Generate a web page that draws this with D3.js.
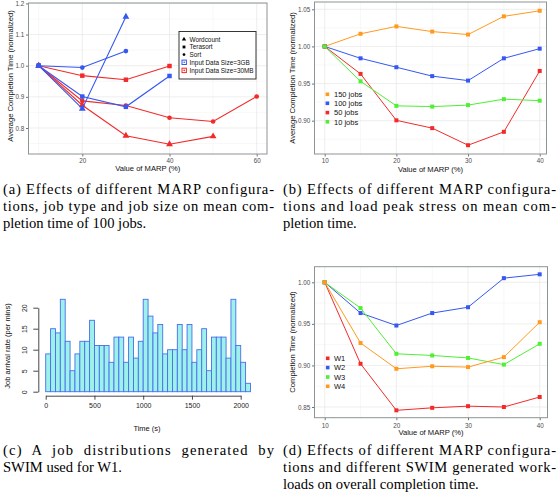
<!DOCTYPE html>
<html><head><meta charset="utf-8">
<script src="https://cdn.jsdelivr.net/npm/d3@7"></script>
<style>body{margin:0;background:#fff} svg{display:block}</style>
</head><body><svg id="c" width="560" height="502"></svg>
<script>
// ---------- DATA ----------
// (a)
const marpA = [10, 20, 30, 40, 50, 60];
const wordcount3GB = [1.0, 0.862, 1.157];
const terasort3GB = [1.0, 0.901, 0.868, 0.967];
const sort3GB = [1.0, 0.994, 1.047];
const wordcount30MB = [1.0, 0.873, 0.775, 0.748, 0.773];
const terasort30MB = [1.0, 0.968, 0.955, 0.999];
const sort30MB = [1.0, 0.887, 0.872, 0.833, 0.821, 0.901];
const legendA = ["Wordcount", "Terasort", "Sort", "Input Data Size=3GB", "Input Data Size=30MB"];
// (b)
const marpB = [10, 15, 20, 25, 30, 35, 40];
const jobs150 = [1.0, 1.017, 1.027, 1.020, 1.016, 1.0405, 1.048];
const jobs100 = [1.0, 0.984, 0.972, 0.960, 0.954, 0.984, 0.997];
const jobs50 = [1.0, 0.963, 0.9005, 0.890, 0.867, 0.885, 0.967];
const jobs10 = [1.0, 0.953, 0.920, 0.919, 0.921, 0.929, 0.927];
const legendB = ["150 jobs", "100 jobs", "50 jobs", "10 jobs"];
// (c)
const arrivals = [9,15,14,22,12,5,9,12,12,17,11,11,11,7,13,13,7,13,8,12,22,18,14,16,9,10,10,16,10,16,7,10,15,5,13,13,13,8,22,11,7,2];
const binWidth = 50;
const ticksCX = [0, 500, 1000, 1500, 2000];
const ticksCY = [0, 5, 10, 15, 20];
// (d)
const marpD = [10, 15, 20, 25, 30, 35, 40];
const w1 = [1.0, 0.902, 0.846, 0.849, 0.851, 0.850, 0.862];
const w2 = [1.0, 0.963, 0.948, 0.963, 0.970, 1.005, 1.0096];
const w3 = [1.0, 0.969, 0.914, 0.912, 0.909, 0.901, 0.926];
const w4 = [1.0, 0.927, 0.896, 0.899, 0.898, 0.910, 0.952];
const legendD = ["W1", "W2", "W3", "W4"];
// captions
const capA = ["(a) Effects of different MARP configura-", "tions, job type and job size on mean com-", "pletion time of 100 jobs."];
const capB = ["(b) Effects of different MARP configura-", "tions and load peak stress on mean com-", "pletion time."];
const capC = ["(c)  A  job  distributions  generated  by", "SWIM used for W1."];
const capD = ["(d) Effects of different MARP configura-", "tions and different SWIM generated work-", "loads on overall completion time."];

// ---------- DRAW ----------
const svg = d3.select("#c");
svg.append("rect").attr("width", 560).attr("height", 502).attr("fill", "#fff");
const SANS = "'Liberation Sans', Arial, Helvetica, sans-serif";
const SERIF = "'Liberation Serif', 'DejaVu Serif', 'Times New Roman', serif";
const BLUE = "#3557f2", RED = "#f22a2a", ORANGE = "#ff9a1f", GREEN = "#4fef35";

function ggPanel(o) {
  const g = svg.append("g");
  const { l, r, t, b } = o.box;
  o.xMinor.forEach(v => g.append("line").attr("x1", o.x(v)).attr("x2", o.x(v)).attr("y1", t).attr("y2", b).attr("stroke", "#f3f3f3").attr("stroke-width", 0.6));
  o.yMinor.forEach(v => g.append("line").attr("y1", o.y(v)).attr("y2", o.y(v)).attr("x1", l).attr("x2", r).attr("stroke", "#f3f3f3").attr("stroke-width", 0.6));
  o.xMajor.forEach(v => g.append("line").attr("x1", o.x(v)).attr("x2", o.x(v)).attr("y1", t).attr("y2", b).attr("stroke", "#e6e6e6").attr("stroke-width", 0.7));
  o.yMajor.forEach(v => g.append("line").attr("y1", o.y(v)).attr("y2", o.y(v)).attr("x1", l).attr("x2", r).attr("stroke", "#e6e6e6").attr("stroke-width", 0.7));
  const ax = g.append("g").attr("transform", `translate(0,${b})`)
    .call(d3.axisBottom(o.x).tickValues(o.xMajor).tickSize(2.5).tickPadding(o.xPad).tickFormat(d3.format("d")));
  const ay = g.append("g").attr("transform", `translate(${l},0)`)
    .call(d3.axisLeft(o.y).tickValues(o.yMajor).tickSize(2.5).tickPadding(1.8).tickFormat(d3.format(o.yFmt)));
  [ax, ay].forEach(a => {
    a.select(".domain").remove();
    a.selectAll("line").attr("stroke", "#333").attr("stroke-width", 0.7);
    a.selectAll("text").attr("font-family", SANS).attr("font-size", 6.3).attr("fill", "#4d4d4d");
  });
  g.append("rect").attr("x", l).attr("y", t).attr("width", r - l).attr("height", b - t)
    .attr("fill", "none").attr("stroke", "#8c9494").attr("stroke-width", 1);
  g.append("text").attr("x", (l + r) / 2).attr("y", o.xTitleY).attr("text-anchor", "middle")
    .attr("font-family", SANS).attr("font-size", 7.6).attr("fill", "#111").text(o.xTitle);
  g.append("text").attr("transform", `translate(${o.yTitleX},${o.yTitleMid}) rotate(-90)`).attr("text-anchor", "middle")
    .attr("font-family", SANS).attr("font-size", 7.6).attr("fill", "#111").text(o.yTitle);
  return g;
}

function series(g, xs, ys, x, y, color, type, size, lw) {
  const pts = ys.map((v, i) => [xs[i], v]);
  g.append("path").datum(pts).attr("fill", "none").attr("stroke", color).attr("stroke-width", lw)
    .attr("d", d3.line().x(d => x(d[0])).y(d => y(d[1])));
  g.selectAll(null).data(pts).join("path")
    .attr("transform", d => `translate(${x(d[0])},${y(d[1])})`)
    .attr("d", d3.symbol().type(type).size(size)).attr("fill", color);
}

// ----- Panel (a) -----
{
  const x = d3.scaleLinear().domain([20, 60]).range([82.3, 256.7]);
  const y = d3.scaleLinear().domain([0.8, 1.0]).range([128, 65.7]);
  const g = ggPanel({
    box: { l: 28.5, r: 267, t: 3, b: 154 }, x, y,
    xMajor: [20, 40, 60], xMinor: [10, 30, 50],
    yMajor: [0.8, 0.9, 1.0, 1.1, 1.2], yMinor: [0.75, 0.85, 0.95, 1.05, 1.15],
    yFmt: ".1f", xPad: 2, xTitle: "Value of MARP (%)", xTitleY: 171,
    yTitle: "Average Completion Time (normalized)", yTitleX: 12.5, yTitleMid: 76
  });
  const sTri = d3.symbolTriangle, sSq = d3.symbolSquare, sCi = d3.symbolCircle;
  series(g, marpA, wordcount30MB, x, y, RED, sTri, 20, 1.1);
  series(g, marpA, sort30MB, x, y, RED, sCi, 17, 1.1);
  series(g, marpA, terasort30MB, x, y, RED, sSq, 20, 1.1);
  series(g, marpA, terasort3GB, x, y, BLUE, sSq, 20, 1.1);
  series(g, marpA, sort3GB, x, y, BLUE, sCi, 17, 1.1);
  series(g, marpA, wordcount3GB, x, y, BLUE, sTri, 20, 1.1);
  const lg = g.append("g");
  lg.append("rect").attr("x", 179).attr("y", 31.5).attr("width", 77).attr("height", 47.5)
    .attr("fill", "#fff").attr("stroke", "#222").attr("stroke-width", 0.9);
  const ly = [39.3, 47, 54.6, 62.3, 70.4];
  const shapes = [sTri, sSq, sCi];
  legendA.forEach((t, i) => {
    if (i < 3) {
      lg.append("path").attr("transform", `translate(184,${ly[i]})`).attr("d", d3.symbol().type(shapes[i]).size(i === 2 ? 6 : 8)).attr("fill", "#000");
    } else {
      const c = i === 3 ? BLUE : RED;
      lg.append("rect").attr("x", 182).attr("y", ly[i] - 2.2).attr("width", 4.4).attr("height", 4.4).attr("fill", "none").attr("stroke", c).attr("stroke-width", 1);
      lg.append("circle").attr("cx", 184.2).attr("cy", ly[i]).attr("r", 0.8).attr("fill", c);
    }
    lg.append("text").attr("x", 189.5).attr("y", ly[i] + 2.2).attr("font-family", SANS).attr("font-size", 6.4).attr("fill", "#111").text(t);
  });
}

// ----- Panel (b) -----
{
  const x = d3.scaleLinear().domain([10, 40]).range([324.7, 539.7]);
  const y = d3.scaleLinear().domain([0.90, 1.05]).range([120.7, 9.3]);
  const g = ggPanel({
    box: { l: 314.5, r: 546.5, t: 2, b: 154 }, x, y,
    xMajor: [10, 20, 30, 40], xMinor: [15, 25, 35],
    yMajor: [0.90, 0.95, 1.00, 1.05], yMinor: [0.875, 0.925, 0.975, 1.025],
    yFmt: ".2f", xPad: 2.5, xTitle: "Value of MARP (%)", xTitleY: 171.5,
    yTitle: "Average Completion Time (normalized)", yTitleX: 295.3, yTitleMid: 78
  });
  const sq = d3.symbolSquare;
  series(g, marpB, jobs150, x, y, ORANGE, sq, 16, 1);
  series(g, marpB, jobs100, x, y, BLUE, sq, 16, 1);
  series(g, marpB, jobs50, x, y, RED, sq, 16, 1);
  series(g, marpB, jobs10, x, y, GREEN, sq, 16, 1);
  const cols = [ORANGE, BLUE, RED, GREEN];
  const ly = [94.3, 103.3, 112.6, 121.8];
  legendB.forEach((t, i) => {
    g.append("rect").attr("x", 325.6).attr("y", ly[i] - 1.8).attr("width", 3.6).attr("height", 3.6).attr("fill", cols[i]);
    g.append("text").attr("x", 334).attr("y", ly[i] + 2.7).attr("font-family", SANS).attr("font-size", 7.5).attr("fill", "#111").text(t);
  });
}

// ----- Panel (c) histogram -----
{
  const x = d3.scaleLinear().domain([0, 2000]).range([45.7, 240.7]);
  const y = d3.scaleLinear().domain([0, 20]).range([391.7, 307.7]);
  const g = svg.append("g");
  g.selectAll(null).data(arrivals).join("rect")
    .attr("x", (d, i) => x(i * binWidth)).attr("width", (d, i) => x((i + 1) * binWidth) - x(i * binWidth))
    .attr("y", d => y(d)).attr("height", d => y(0) - y(d))
    .attr("fill", "#9cf2e9").attr("stroke", "#4a6cf2").attr("stroke-width", 0.9);
  const ax = g.append("g").attr("transform", "translate(0,395.7)")
    .call(d3.axisBottom(x).tickValues(ticksCX).tickSize(4).tickSizeOuter(0).tickPadding(9).tickFormat(d3.format("d")));
  const ay = g.append("g").attr("transform", "translate(38.3,0)")
    .call(d3.axisLeft(y).tickValues(ticksCY).tickSize(5).tickSizeOuter(0));
  [ax, ay].forEach(a => {
    a.select(".domain").attr("stroke", "#333").attr("stroke-width", 0.9);
    a.selectAll("line").attr("stroke", "#333").attr("stroke-width", 0.9);
    a.selectAll("text").attr("font-family", SANS).attr("font-size", 7).attr("fill", "#222");
  });
  ay.selectAll("text").attr("x", 0).attr("y", -11.3).attr("dy", 0).attr("text-anchor", "middle").attr("transform", "rotate(-90)");
  ax.selectAll("text").attr("dy", 0).attr("y", 12);
  g.append("text").attr("x", 147).attr("y", 430.5).attr("text-anchor", "middle").attr("font-family", SANS).attr("font-size", 7.5).attr("fill", "#111").text("Time (s)");
  g.append("text").attr("transform", "translate(9.5,346) rotate(-90)").attr("text-anchor", "middle").attr("font-family", SANS).attr("font-size", 7.5).attr("fill", "#111").text("Job arrival rate (per mins)");
}

// ----- Panel (d) -----
{
  const x = d3.scaleLinear().domain([10, 40]).range([324.7, 539.7]);
  const y = d3.scaleLinear().domain([0.85, 1.00]).range([407, 282.3]);
  const g = ggPanel({
    box: { l: 314.5, r: 547.5, t: 266.7, b: 417.7 }, x, y,
    xMajor: [10, 20, 30, 40], xMinor: [15, 25, 35],
    yMajor: [0.85, 0.90, 0.95, 1.00], yMinor: [0.875, 0.925, 0.975],
    yFmt: ".2f", xPad: 3.2, xTitle: "Value of MARP (%)", xTitleY: 435.3,
    yTitle: "Completion Time (normalized)", yTitleX: 295.3, yTitleMid: 342
  });
  const sq = d3.symbolSquare;
  series(g, marpD, w1, x, y, RED, sq, 16, 1);
  series(g, marpD, w2, x, y, BLUE, sq, 16, 1);
  series(g, marpD, w3, x, y, GREEN, sq, 16, 1);
  series(g, marpD, w4, x, y, ORANGE, sq, 16, 1);
  const cols = [RED, BLUE, GREEN, ORANGE];
  const ly = [358.3, 367.6, 377, 386.3];
  legendD.forEach((t, i) => {
    g.append("rect").attr("x", 325.9).attr("y", ly[i] - 1.8).attr("width", 3.6).attr("height", 3.6).attr("fill", cols[i]);
    g.append("text").attr("x", 334).attr("y", ly[i] + 2.7).attr("font-family", SANS).attr("font-size", 7.5).attr("fill", "#111").text(t);
  });
}

// ----- Captions -----
function caption(lines, x0, width, y0) {
  lines.forEach((t, i) => {
    const tx = svg.append("text").attr("x", x0).attr("y", y0 + i * 17).attr("font-family", SERIF)
      .attr("font-size", 14.6).attr("fill", "#000").attr("xml:space", "preserve").text(t);
    if (i < lines.length - 1) tx.attr("textLength", width).attr("lengthAdjust", "spacing");
  });
}
caption(capA, 3, 271, 194);
caption(capB, 283, 273, 194);
caption(capC, 3, 271, 455);
caption(capD, 283, 273, 455);
</script>
</body></html>
